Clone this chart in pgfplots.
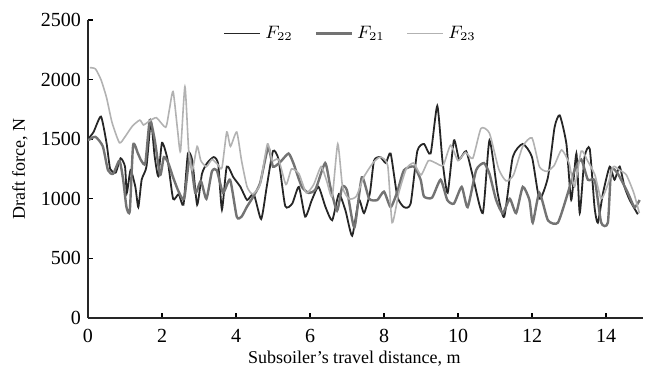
\documentclass[border=0pt]{standalone}
\usepackage{fontspec}
\setmainfont{Liberation Serif}
\usepackage{pgfplots}
\pgfplotsset{compat=1.18}
\begin{document}
\begin{tikzpicture}
\begin{axis}[
 scale only axis, width=277.5pt, height=149pt,
 xmin=0, xmax=15, ymin=0, ymax=2500,
 axis lines=left, axis line style={-, line width=0.6pt, black!85},
 xtick={0,2,...,14}, ytick={0,500,...,2500},
 tick align=inside, major tick length=2.5pt, tick style={black, line width=0.6pt},
 ticklabel style={font=\fontsize{10}{12}\selectfont},
 xticklabel style={yshift=-2pt},
 /pgf/number format/assume math mode=true,
 /pgf/number format/1000 sep={},
 xlabel={Subsoiler's travel distance, m}, ylabel={Draft force, N},
 label style={font=\fontsize{9}{11}\selectfont},
 xlabel style={at={(axis description cs:0.48,-0.135)}, anchor=center},
 ylabel style={at={(axis description cs:-0.1225,0.5)}, anchor=center},
 legend style={draw=none, fill=none, at={(axis description cs:0.475,0.955)}, anchor=center,
   legend columns=3, font=\fontsize{9}{11}\selectfont,
   /tikz/every even column/.append style={column sep=9pt}},
 legend image code/.code={\draw[#1] (0pt,0pt)--(18pt,0pt);},
 every axis plot/.append style={smooth, tension=0.35},
]
\addplot[black!85, line width=0.9pt] coordinates {
(0.0,1500) (0.15,1560) (0.35,1690) (0.5,1470) (0.6,1250) (0.75,1220) (0.88,1340) (1.0,1270)
(1.05,1050) (1.15,1240) (1.28,1100) (1.36,930) (1.45,1160) (1.58,1270) (1.7,1650) (1.8,1360)
(1.9,1190) (2.0,1470) (2.15,1330) (2.3,1000) (2.45,1040) (2.58,950) (2.7,1380) (2.82,1320)
(2.95,950) (3.08,1210) (3.22,1300) (3.4,1350) (3.52,1290) (3.62,910) (3.75,1270) (3.93,1180)
(4.12,1100) (4.3,990) (4.48,1040) (4.68,830) (4.83,1100) (5.0,1400) (5.15,1330) (5.33,940)
(5.52,960) (5.7,1100) (5.87,850) (6.05,990) (6.23,1100) (6.42,930) (6.6,820) (6.78,1040)
(6.96,900) (7.14,690) (7.32,990) (7.46,880) (7.62,1050) (7.73,1320) (7.9,1350) (8.05,1300)
(8.18,1380) (8.36,1020) (8.54,930) (8.72,960) (8.9,1400) (9.08,1460) (9.26,1380) (9.44,1780)
(9.58,1320) (9.72,1050) (9.89,1490) (10.03,1330) (10.22,1400) (10.4,1190) (10.67,880) (10.85,1490)
(11.07,1050) (11.25,850) (11.48,1350) (11.75,1460) (12.0,1350) (12.2,1000) (12.43,1180) (12.61,1600)
(12.75,1700) (12.93,1460) (13.06,990) (13.2,1380) (13.29,880) (13.42,1350) (13.56,1420) (13.69,930)
(13.78,800) (13.92,1050) (14.1,1270) (14.23,1160) (14.37,1270) (14.5,1100) (14.64,990) (14.86,870)
};
\addlegendentry{$F_{22}$}
\addplot[black!55, line width=1.2pt] coordinates {
(0.0,1490) (0.2,1520) (0.4,1440) (0.54,1240) (0.68,1210) (0.85,1320) (0.95,1160) (1.04,930)
(1.13,900) (1.22,1450) (1.35,1380) (1.44,1320) (1.55,1300) (1.67,1660) (1.8,1500) (1.95,1200)
(2.05,1350) (2.17,1300) (2.3,1180) (2.45,1060) (2.6,1000) (2.75,1350) (2.9,1050) (3.05,1150)
(3.2,1000) (3.35,1230) (3.48,1240) (3.65,1050) (3.84,1160) (4.02,850) (4.15,850) (4.29,930)
(4.45,1010) (4.65,1130) (4.87,1430) (5.0,1270) (5.2,1310) (5.42,1380) (5.55,1300) (5.65,1210)
(5.78,1100) (5.96,1050) (6.15,1080) (6.41,1300) (6.55,1100) (6.73,900) (6.87,1100) (7.0,1070)
(7.2,760) (7.4,1180) (7.6,1000) (7.82,990) (8.0,1060) (8.18,930) (8.36,1060) (8.54,1240)
(8.81,1270) (8.99,1160) (9.08,1020) (9.3,1010) (9.53,1160) (9.71,990) (9.89,960) (10.1,1100)
(10.26,930) (10.49,1240) (10.7,1300) (10.85,1210) (11.03,990) (11.21,880) (11.4,1000) (11.57,880)
(11.75,1100) (11.93,990) (12.02,800) (12.2,1050) (12.43,820) (12.7,800) (12.97,1050) (13.15,1240)
(13.33,1330) (13.51,1160) (13.7,1150) (13.87,800) (14.05,800) (14.14,1240) (14.32,1210) (14.59,1050)
(14.77,930) (14.91,990)
};
\addlegendentry{$F_{21}$}
\addplot[black!30, line width=0.8pt] coordinates {
(0.05,2100) (0.2,2090) (0.35,2000) (0.5,1850) (0.65,1640) (0.85,1470) (1.0,1520) (1.2,1610)
(1.4,1660) (1.5,1620) (1.65,1650) (1.85,1680) (2.1,1600) (2.2,1750) (2.3,1900) (2.42,1580)
(2.5,1400) (2.62,1940) (2.72,1410) (2.82,1240) (2.95,1440) (3.05,1320) (3.2,1270) (3.35,1330)
(3.5,1290) (3.62,1260) (3.75,1560) (3.85,1440) (4.02,1560) (4.15,1320) (4.3,1100) (4.45,1040)
(4.65,1120) (4.85,1460) (4.98,1320) (5.15,1330) (5.35,1120) (5.5,1250) (5.7,1210) (5.9,1050)
(6.1,1120) (6.3,1270) (6.45,1150) (6.6,1020) (6.75,1460) (6.88,1100) (7.05,1000) (7.25,1020)
(7.45,1180) (7.7,1300) (7.9,1350) (8.1,1280) (8.22,800) (8.4,1050) (8.6,1250) (8.8,1300)
(9.0,1200) (9.2,1320) (9.4,1300) (9.6,1280) (9.8,1450) (10.0,1320) (10.2,1390) (10.4,1340)
(10.62,1590) (10.85,1550) (11.1,1250) (11.3,1150) (11.5,1200) (11.75,1440) (12.0,1510) (12.2,1270)
(12.4,1230) (12.6,1280) (12.8,1410) (13.0,1300) (13.15,1100) (13.33,1400) (13.5,1320) (13.7,1200)
(13.87,1000) (14.05,1120) (14.2,1270) (14.37,1240) (14.55,1200) (14.75,1050) (14.9,880)
};
\addlegendentry{$F_{23}$}
\end{axis}
\pgfresetboundingbox
\path ([shift={(-44pt,-28pt)}]current axis.south west) rectangle ([shift={(4pt,10pt)}]current axis.north east);
\end{tikzpicture}
\end{document}
